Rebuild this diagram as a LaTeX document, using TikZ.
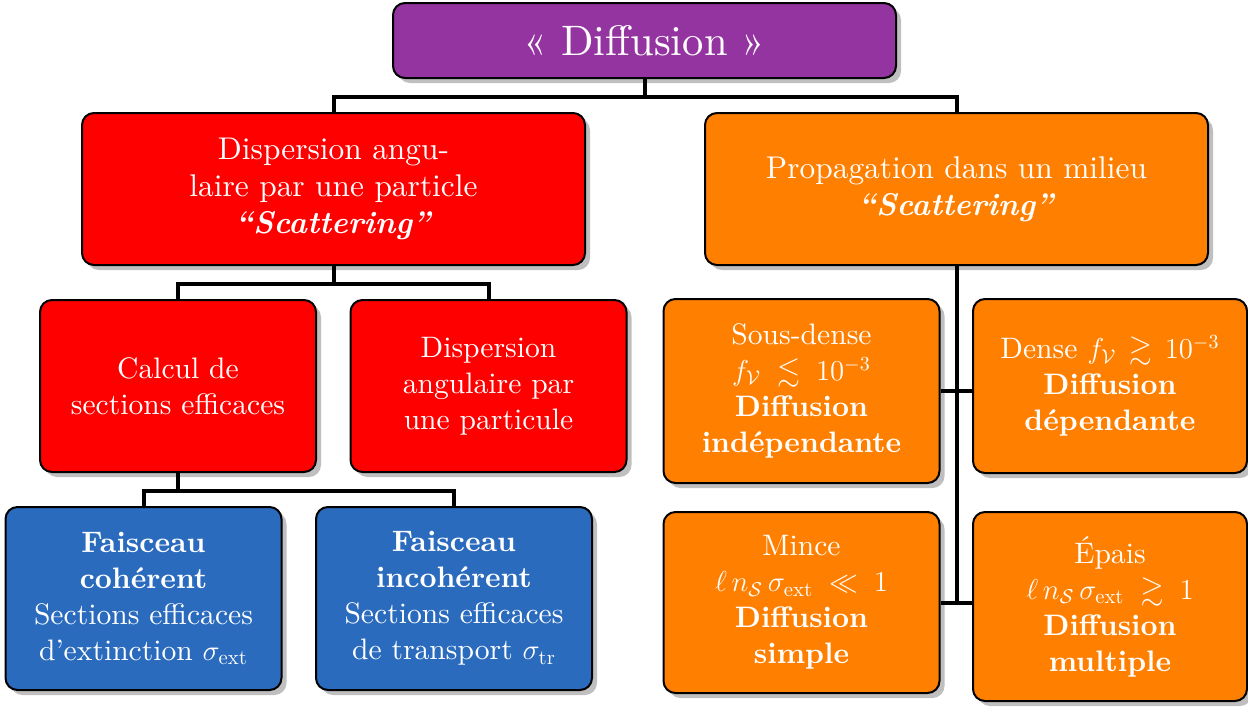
\documentclass[tikz,border=0pt]{standalone}
\usepackage{fontspec}
\setmainfont{lmroman10-regular.otf}[BoldFont=lmroman10-bold.otf,
    ItalicFont=lmroman10-italic.otf,BoldItalicFont=lmroman10-bolditalic.otf]
\usepackage{amsmath,amssymb}
\usetikzlibrary{positioning,shadows}
\definecolor{diffviolet}{RGB}{148,52,160}
\definecolor{diffrouge}{RGB}{255,0,0}
\definecolor{difforange}{RGB}{255,128,0}
\definecolor{diffbleu}{RGB}{42,107,190}
\tikzset{
    bloc/.style={draw=black,line width=1pt,rounded corners=6pt,text=white,
        align=center,font=\fontsize{14.8}{18}\selectfont,inner sep=3pt,
        drop shadow={shadow xshift=2.5pt,shadow yshift=-2.5pt,fill=black!25,opacity=1}},
    grandbloc/.style={bloc,minimum width=251.5pt,minimum height=76pt,
        font=\fontsize{15.7}{18.5}\selectfont},
    petitbloc/.style={bloc,minimum width=138pt},
    lien/.style={line width=2pt,black},
}
\begin{document}
\begin{tikzpicture}[x=0.5pt,y=-0.5pt]
    \useasboundingbox (0,0) rectangle (1248,708);
    % racine
    \node[bloc,fill=diffviolet,minimum width=251.5pt,minimum height=37.5pt,
        font=\fontsize{21.3}{25}\selectfont] (diffusion) at (644.5,40.5) {« Diffusion »};
    % deux branches
    \node[grandbloc,fill=diffrouge] (dispersion) at (333.5,189)
        {Dispersion angu-\\laire par une particle\\\textbf{\textit{“Scattering”}}};
    \node[grandbloc,fill=difforange] (propagation) at (956.5,189)
        {Propagation dans un milieu\\\textbf{\textit{“Scattering”}}};
    % branche particule
    \node[petitbloc,fill=diffrouge,minimum height=86pt] (calcul) at (178,386)
        {Calcul de\\sections efficaces};
    \node[petitbloc,fill=diffrouge,minimum height=86pt] (angulaire) at (488.5,386)
        {Dispersion\\angulaire par\\une particule};
    \node[petitbloc,fill=diffbleu,minimum height=91.5pt] (coherent) at (143.5,598.5)
        {\textbf{Faisceau}\\\textbf{cohérent}\\Sections efficaces\\d’extinction $\sigma_{\text{ext}}$};
    \node[petitbloc,fill=diffbleu,minimum height=91.5pt] (incoherent) at (454,598.5)
        {\textbf{Faisceau}\\\textbf{incohérent}\\Sections efficaces\\de transport $\sigma_{\text{tr}}$};
    % branche milieu
    \node[petitbloc,fill=difforange,anchor=north,minimum height=92pt] (sousdense) at (801.5,298)
        {Sous-dense\\$f_{\mathcal{V}}\;\lesssim\;10^{-3}$\\\textbf{Diffusion}\\\textbf{indépendante}};
    \node[petitbloc,fill=difforange,anchor=north,minimum width=137pt,minimum height=87pt] (dense) at (1110,298)
        {Dense $f_{\mathcal{V}}\,\gtrsim\,10^{-3}$\\\textbf{Diffusion}\\\textbf{dépendante}};
    \node[petitbloc,fill=difforange,anchor=north,minimum height=90.5pt] (mince) at (801.5,511)
        {Mince\\$\ell\,n_{\mathcal{S}}\,\sigma_{\text{ext}}\;\ll\;1$\\\textbf{Diffusion}\\\textbf{simple}};
    \node[petitbloc,fill=difforange,anchor=north,minimum width=137pt,minimum height=94.5pt] (epais) at (1110,511)
        {Épais\\$\ell\,n_{\mathcal{S}}\,\sigma_{\text{ext}}\;\gtrsim\;1$\\\textbf{Diffusion}\\\textbf{multiple}};
    % liens
    \draw[lien] (diffusion.south) -- ++(0,18) -| (dispersion.north);
    \draw[lien] (diffusion.south) -- ++(0,18) -| (propagation.north);
    \draw[lien] (dispersion.south) -- ++(0,18) -| (calcul.north);
    \draw[lien] (dispersion.south) -- ++(0,18) -| (angulaire.north);
    \draw[lien] (calcul.south) -- ++(0,18) -| (coherent.north);
    \draw[lien] (calcul.south) -- ++(0,18) -| (incoherent.north);
    \draw[lien] (propagation.south) -- (propagation.south |- mince.east);
    \draw[lien] (sousdense.east) -- (sousdense.east -| dense.west);
    \draw[lien] (mince.east) -- (mince.east -| epais.west);
\end{tikzpicture}
\end{document}
